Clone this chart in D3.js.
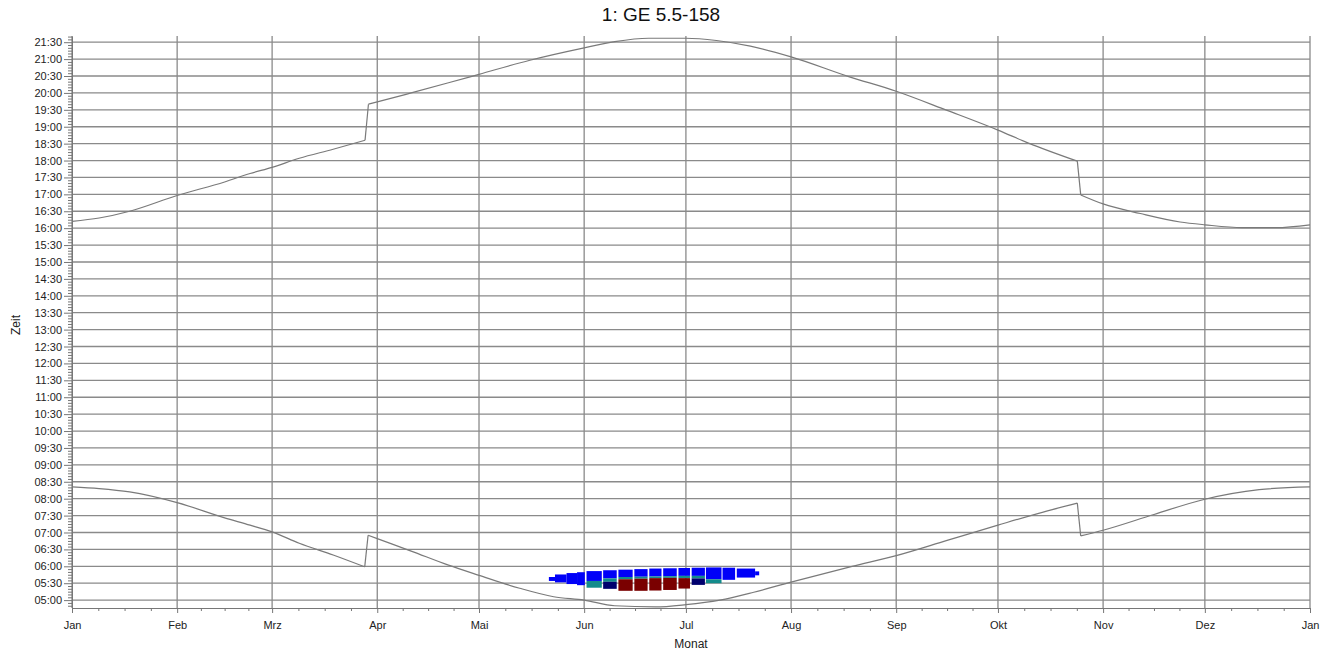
<!DOCTYPE html>
<html lang="de">
<head>
<meta charset="UTF-8">
<script src="https://cdn.jsdelivr.net/npm/d3@7"></script>
<title>1: GE 5.5-158</title>
<style>
    html, body {
        margin: 0;
        padding: 0;
        background-color: #ffffff;
        font-family: "Liberation Sans", Arial, sans-serif;
    }
    .axis text {
        font-family: "Liberation Sans", Arial, sans-serif;
        font-size: 11px;
        fill: #222;
    }
    .axis line, .axis path {
        stroke: #777;
    }
</style>
</head>
<body>
<svg id="chart" width="1331" height="654"></svg>
<script>
    // month axis (day of year)
    const monthLabels = ['Jan', 'Feb', 'Mrz', 'Apr', 'Mai', 'Jun', 'Jul', 'Aug', 'Sep', 'Okt', 'Nov', 'Dez', 'Jan'];
    const monthDays = [0, 31, 59, 90, 120, 151, 181, 212, 243, 273, 304, 334, 365];

    // sunset (minutes after midnight)
    const sunsetDay = [0, 8, 17, 31, 45, 52.5, 59, 67, 77, 86.4, 87.4, 90, 100, 111, 120, 135, 151, 160, 170, 181, 190, 200, 212, 229, 243, 258, 273, 282, 296.4, 297.4, 304, 315, 326.7, 334, 345, 355, 365];
    const sunsetMin = [972, 978, 990, 1018, 1042, 1057, 1068, 1084, 1100, 1116, 1180, 1184, 1200, 1218, 1233, 1258, 1280, 1291, 1297, 1297, 1293, 1283, 1264, 1229, 1203, 1169, 1134, 1111, 1079, 1019, 1003, 986, 971, 966, 961, 961, 966];

    // sunrise (minutes after midnight)
    const sunriseDay = [0, 8, 17, 31, 45, 52.5, 59, 67, 77, 86.3, 87.3, 90, 100, 111, 120, 132, 142, 151, 160, 172, 181, 191, 201, 212, 230, 243, 258, 273, 285, 296.4, 297.4, 304, 319, 334, 350, 365];
    const sunriseMin = [501, 498, 492, 473, 446, 433, 421, 401, 380, 359, 415, 409, 387, 362, 344, 321, 306, 300, 290, 288, 292, 300, 314, 332, 360, 379, 406, 433, 454, 472, 414, 424, 452, 479, 496, 501];

    // shadow columns: day range + [top, bottom] time per colour layer
    const colStart = [140.6, 142.4, 145.8, 148.9, 151.7, 156.6, 161.1, 165.8, 170.2, 174.3, 178.8, 182.7, 186.9, 191.8, 196.0, 201.4];
    const colEnd   = [142.4, 145.8, 148.9, 151.2, 156.2, 160.6, 165.3, 169.7, 173.8, 178.3, 182.2, 186.6, 191.5, 195.5, 201.4, 202.6];
    const blueBand = [[341, 334], [345.5, 331.5], [348, 328.5], [349.5, 326.5], [351.5, 334], [353, 338.5], [354, 341], [355, 341.5], [356, 342], [356.5, 342.5], [357, 343], [357.5, 343], [358, 337], [357.5, 336], [356, 340], [351, 344]];
    const tealBand = [null, null, null, null, [334, 322], [338.5, 332.5], [341, 337], [341.5, 338], [342, 339], [342.5, 339.5], [343, 339], [343, 338.5], [337, 330], null, null, null];
    const navyBand = [null, null, null, null, null, [332.5, 320], null, null, null, null, null, [338.5, 327], null, null, null, null];
    const redBand  = [null, null, null, null, null, null, [337, 316.5], [338, 316.5], [339, 317], [339.5, 318], [339, 320.5], null, null, null, null, null];

    const layers = [
        {band: blueBand, color: '#0000f8'},
        {band: tealBand, color: '#138c8c'},
        {band: navyBand, color: '#00006e'},
        {band: redBand, color: '#7a0000'}
    ];

    const plot = {left: 72, right: 1310, top: 36, bottom: 608};

    const svg = d3.select('#chart');

    const x = d3.scaleLinear().domain([0, 365]).range([plot.left, plot.right]);
    const y = d3.scaleLinear().domain([286, 1301]).range([plot.bottom, plot.top]);

    const fmt = (m) => {
        let h = Math.floor(m / 60), mm = Math.round(m % 60);
        return `${String(h).padStart(2, '0')}:${String(mm).padStart(2, '0')}`;
    };

    const majorY = d3.range(300, 1291, 30);
    const minorY = d3.range(290, 1301, 5).filter(v => v % 30 !== 0);
    let minorX = [];
    for (let i = 0; i < monthDays.length - 1; i++) {
        let len = monthDays[i + 1] - monthDays[i];
        for (let k = 1; k < 4; k++) minorX.push(monthDays[i] + len * k / 4);
    }

    // grid
    let grid = svg.append('g').attr('stroke', '#8a8a8a').attr('stroke-width', 1.3);
    grid.selectAll('.h').data(majorY).join('line')
        .attr('x1', plot.left).attr('x2', plot.right)
        .attr('y1', d => y(d)).attr('y2', d => y(d));
    grid.selectAll('.v').data(monthDays).join('line')
        .attr('x1', d => x(d)).attr('x2', d => x(d))
        .attr('y1', plot.top).attr('y2', plot.bottom);

    // shadow blob
    layers.forEach((layer) => {
        let rows = colStart.map((s, i) => ({s: s, e: colEnd[i], b: layer.band[i]})).filter(r => r.b);
        svg.append('g').selectAll('rect').data(rows).join('rect')
            .attr('x', d => x(d.s))
            .attr('width', d => x(d.e) - x(d.s))
            .attr('y', d => y(d.b[0]))
            .attr('height', d => y(d.b[1]) - y(d.b[0]))
            .attr('fill', layer.color);
    });

    // sunrise / sunset lines, split at the clock changes so the curve does not bend there
    let smooth = d3.line().x(d => x(d[0])).y(d => y(d[1])).curve(d3.curveMonotoneX);
    function drawTime(days, mins) {
        let pts = days.map((d, i) => [d, mins[i]]);
        let pieces = [[pts[0]]];
        for (let i = 1; i < pts.length; i++) {
            let jump = Math.abs(pts[i][1] - pts[i - 1][1]) > 30 && (pts[i][0] - pts[i - 1][0]) < 2;
            if (jump) {
                pieces.push([pts[i - 1], pts[i]]);
                pieces.push([pts[i]]);
            } else {
                pieces[pieces.length - 1].push(pts[i]);
            }
        }
        svg.append('g').selectAll('path').data(pieces).join('path')
            .attr('d', p => p.length === 2 ? d3.line().x(d => x(d[0])).y(d => y(d[1]))(p) : smooth(p))
            .attr('fill', 'none').attr('stroke', '#7a7a7a').attr('stroke-width', 1.2);
    }
    drawTime(sunsetDay, sunsetMin);
    drawTime(sunriseDay, sunriseMin);

    // axes
    svg.append('g').attr('class', 'axis')
        .attr('transform', `translate(${plot.left},0)`)
        .call(d3.axisLeft(y).tickValues(majorY).tickFormat(fmt).tickSize(8).tickSizeOuter(0).tickPadding(2));
    svg.append('g').attr('class', 'axis')
        .attr('transform', `translate(${plot.left},0)`)
        .call(d3.axisLeft(y).tickValues(minorY).tickFormat('').tickSize(4).tickSizeOuter(0))
        .select('.domain').remove();

    svg.append('g').attr('class', 'axis')
        .attr('transform', `translate(0,${plot.bottom})`)
        .call(d3.axisBottom(x).tickValues(monthDays).tickFormat((d, i) => monthLabels[i]).tickSize(5).tickSizeOuter(0).tickPadding(8));
    svg.append('g').attr('class', 'axis')
        .attr('transform', `translate(0,${plot.bottom})`)
        .call(d3.axisBottom(x).tickValues(minorX).tickFormat('').tickSize(3).tickSizeOuter(0))
        .select('.domain').remove();

    // titles
    svg.append('text')
        .attr('x', 661).attr('y', 21)
        .attr('text-anchor', 'middle')
        .attr('font-size', 19).attr('fill', '#111')
        .text('1: GE 5.5-158');
    svg.append('text')
        .attr('x', 691).attr('y', 648)
        .attr('text-anchor', 'middle')
        .attr('font-size', 12).attr('fill', '#222')
        .text('Monat');
    svg.append('text')
        .attr('transform', 'translate(20,325) rotate(-90)')
        .attr('text-anchor', 'middle')
        .attr('font-size', 12).attr('fill', '#222')
        .text('Zeit');
</script>
</body>
</html>
